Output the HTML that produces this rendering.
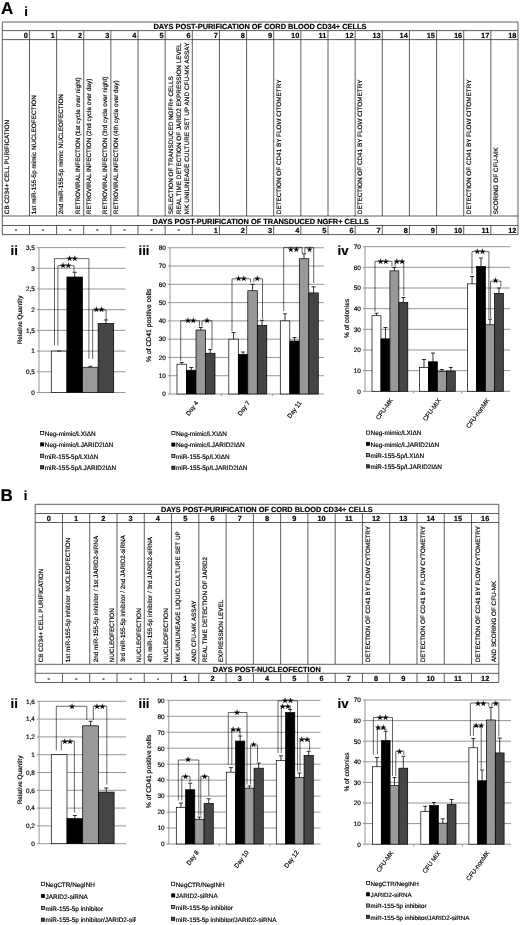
<!DOCTYPE html>
<html lang="en"><head><meta charset="utf-8"><title>Figure</title>
<style>html,body{margin:0;padding:0;background:#fff}svg{display:block}text{text-rendering:geometricPrecision;stroke:#000;stroke-width:0.18px;font-family:"Liberation Sans", Arial, sans-serif}</style></head>
<body>
<svg width="520" height="925" viewBox="0 0 520 925">
<defs><filter id="soft" x="0" y="0" width="520" height="925" filterUnits="userSpaceOnUse"><feGaussianBlur stdDeviation="0.35"/></filter></defs>
<rect width="520" height="925" fill="#fff"/>
<g filter="url(#soft)">
<text x="1" y="13.9" font-size="17" text-anchor="start" font-weight="bold" fill="#000" >A</text>
<text x="24.3" y="15.9" font-size="13.2" text-anchor="start" font-weight="bold" fill="#000" >i</text>
<line x1="2.3" y1="22" x2="518" y2="22" stroke="#2a2a2a" stroke-width="0.75" />
<line x1="2.3" y1="30.6" x2="518" y2="30.6" stroke="#2a2a2a" stroke-width="0.75" />
<line x1="2.3" y1="39.6" x2="518" y2="39.6" stroke="#2a2a2a" stroke-width="0.75" />
<line x1="2.3" y1="216" x2="518" y2="216" stroke="#2a2a2a" stroke-width="0.75" />
<line x1="2.3" y1="225.5" x2="518" y2="225.5" stroke="#2a2a2a" stroke-width="0.75" />
<line x1="2.3" y1="234.6" x2="518" y2="234.6" stroke="#2a2a2a" stroke-width="0.75" />
<line x1="2.3" y1="22" x2="2.3" y2="234.6" stroke="#2a2a2a" stroke-width="0.75" />
<line x1="518" y1="22" x2="518" y2="234.6" stroke="#2a2a2a" stroke-width="0.75" />
<line x1="29.44" y1="30.6" x2="29.44" y2="216" stroke="#2a2a2a" stroke-width="0.75" />
<line x1="29.44" y1="225.5" x2="29.44" y2="234.6" stroke="#2a2a2a" stroke-width="0.75" />
<line x1="56.58" y1="30.6" x2="56.58" y2="216" stroke="#2a2a2a" stroke-width="0.75" />
<line x1="56.58" y1="225.5" x2="56.58" y2="234.6" stroke="#2a2a2a" stroke-width="0.75" />
<line x1="83.73" y1="30.6" x2="83.73" y2="216" stroke="#2a2a2a" stroke-width="0.75" />
<line x1="83.73" y1="225.5" x2="83.73" y2="234.6" stroke="#2a2a2a" stroke-width="0.75" />
<line x1="110.87" y1="30.6" x2="110.87" y2="216" stroke="#2a2a2a" stroke-width="0.75" />
<line x1="110.87" y1="225.5" x2="110.87" y2="234.6" stroke="#2a2a2a" stroke-width="0.75" />
<line x1="138.01" y1="30.6" x2="138.01" y2="216" stroke="#2a2a2a" stroke-width="0.75" />
<line x1="138.01" y1="225.5" x2="138.01" y2="234.6" stroke="#2a2a2a" stroke-width="0.75" />
<line x1="165.15" y1="30.6" x2="165.15" y2="216" stroke="#2a2a2a" stroke-width="0.75" />
<line x1="165.15" y1="225.5" x2="165.15" y2="234.6" stroke="#2a2a2a" stroke-width="0.75" />
<line x1="192.29" y1="30.6" x2="192.29" y2="216" stroke="#2a2a2a" stroke-width="0.75" />
<line x1="192.29" y1="225.5" x2="192.29" y2="234.6" stroke="#2a2a2a" stroke-width="0.75" />
<line x1="219.44" y1="30.6" x2="219.44" y2="216" stroke="#2a2a2a" stroke-width="0.75" />
<line x1="219.44" y1="225.5" x2="219.44" y2="234.6" stroke="#2a2a2a" stroke-width="0.75" />
<line x1="246.58" y1="30.6" x2="246.58" y2="216" stroke="#2a2a2a" stroke-width="0.75" />
<line x1="246.58" y1="225.5" x2="246.58" y2="234.6" stroke="#2a2a2a" stroke-width="0.75" />
<line x1="273.72" y1="30.6" x2="273.72" y2="216" stroke="#2a2a2a" stroke-width="0.75" />
<line x1="273.72" y1="225.5" x2="273.72" y2="234.6" stroke="#2a2a2a" stroke-width="0.75" />
<line x1="300.86" y1="30.6" x2="300.86" y2="216" stroke="#2a2a2a" stroke-width="0.75" />
<line x1="300.86" y1="225.5" x2="300.86" y2="234.6" stroke="#2a2a2a" stroke-width="0.75" />
<line x1="328.01" y1="30.6" x2="328.01" y2="216" stroke="#2a2a2a" stroke-width="0.75" />
<line x1="328.01" y1="225.5" x2="328.01" y2="234.6" stroke="#2a2a2a" stroke-width="0.75" />
<line x1="355.15" y1="30.6" x2="355.15" y2="216" stroke="#2a2a2a" stroke-width="0.75" />
<line x1="355.15" y1="225.5" x2="355.15" y2="234.6" stroke="#2a2a2a" stroke-width="0.75" />
<line x1="382.29" y1="30.6" x2="382.29" y2="216" stroke="#2a2a2a" stroke-width="0.75" />
<line x1="382.29" y1="225.5" x2="382.29" y2="234.6" stroke="#2a2a2a" stroke-width="0.75" />
<line x1="409.43" y1="30.6" x2="409.43" y2="216" stroke="#2a2a2a" stroke-width="0.75" />
<line x1="409.43" y1="225.5" x2="409.43" y2="234.6" stroke="#2a2a2a" stroke-width="0.75" />
<line x1="436.57" y1="30.6" x2="436.57" y2="216" stroke="#2a2a2a" stroke-width="0.75" />
<line x1="436.57" y1="225.5" x2="436.57" y2="234.6" stroke="#2a2a2a" stroke-width="0.75" />
<line x1="463.72" y1="30.6" x2="463.72" y2="216" stroke="#2a2a2a" stroke-width="0.75" />
<line x1="463.72" y1="225.5" x2="463.72" y2="234.6" stroke="#2a2a2a" stroke-width="0.75" />
<line x1="490.86" y1="30.6" x2="490.86" y2="216" stroke="#2a2a2a" stroke-width="0.75" />
<line x1="490.86" y1="225.5" x2="490.86" y2="234.6" stroke="#2a2a2a" stroke-width="0.75" />
<text x="260" y="28.9" font-size="7.42" text-anchor="middle" font-weight="bold" fill="#000" >DAYS POST-PURIFICATION OF CORD BLOOD CD34+ CELLS</text>
<text x="260.7" y="223.6" font-size="7.42" text-anchor="middle" font-weight="bold" fill="#000" >DAYS POST-PURIFICATION OF TRANSDUCED NGFR+ CELLS</text>
<text x="27.84" y="38" font-size="7.4" text-anchor="end" font-weight="bold" fill="#000" >0</text>
<text x="15.87" y="232.4" font-size="7.4" text-anchor="middle" font-weight="bold" fill="#000" >-</text>
<text x="54.98" y="38" font-size="7.4" text-anchor="end" font-weight="bold" fill="#000" >1</text>
<text x="43.01" y="232.4" font-size="7.4" text-anchor="middle" font-weight="bold" fill="#000" >-</text>
<text x="82.13" y="38" font-size="7.4" text-anchor="end" font-weight="bold" fill="#000" >2</text>
<text x="70.16" y="232.4" font-size="7.4" text-anchor="middle" font-weight="bold" fill="#000" >-</text>
<text x="109.27" y="38" font-size="7.4" text-anchor="end" font-weight="bold" fill="#000" >3</text>
<text x="97.3" y="232.4" font-size="7.4" text-anchor="middle" font-weight="bold" fill="#000" >-</text>
<text x="136.41" y="38" font-size="7.4" text-anchor="end" font-weight="bold" fill="#000" >4</text>
<text x="124.44" y="232.4" font-size="7.4" text-anchor="middle" font-weight="bold" fill="#000" >-</text>
<text x="163.55" y="38" font-size="7.4" text-anchor="end" font-weight="bold" fill="#000" >5</text>
<text x="151.58" y="232.4" font-size="7.4" text-anchor="middle" font-weight="bold" fill="#000" >-</text>
<text x="190.69" y="38" font-size="7.4" text-anchor="end" font-weight="bold" fill="#000" >6</text>
<text x="178.72" y="232.4" font-size="7.4" text-anchor="middle" font-weight="bold" fill="#000" >-</text>
<text x="217.84" y="38" font-size="7.4" text-anchor="end" font-weight="bold" fill="#000" >7</text>
<text x="217.84" y="233" font-size="7.4" text-anchor="end" font-weight="bold" fill="#000" >1</text>
<text x="244.98" y="38" font-size="7.4" text-anchor="end" font-weight="bold" fill="#000" >8</text>
<text x="244.98" y="233" font-size="7.4" text-anchor="end" font-weight="bold" fill="#000" >2</text>
<text x="272.12" y="38" font-size="7.4" text-anchor="end" font-weight="bold" fill="#000" >9</text>
<text x="272.12" y="233" font-size="7.4" text-anchor="end" font-weight="bold" fill="#000" >3</text>
<text x="299.26" y="38" font-size="7.4" text-anchor="end" font-weight="bold" fill="#000" >10</text>
<text x="299.26" y="233" font-size="7.4" text-anchor="end" font-weight="bold" fill="#000" >4</text>
<text x="326.41" y="38" font-size="7.4" text-anchor="end" font-weight="bold" fill="#000" >11</text>
<text x="326.41" y="233" font-size="7.4" text-anchor="end" font-weight="bold" fill="#000" >5</text>
<text x="353.55" y="38" font-size="7.4" text-anchor="end" font-weight="bold" fill="#000" >12</text>
<text x="353.55" y="233" font-size="7.4" text-anchor="end" font-weight="bold" fill="#000" >6</text>
<text x="380.69" y="38" font-size="7.4" text-anchor="end" font-weight="bold" fill="#000" >13</text>
<text x="380.69" y="233" font-size="7.4" text-anchor="end" font-weight="bold" fill="#000" >7</text>
<text x="407.83" y="38" font-size="7.4" text-anchor="end" font-weight="bold" fill="#000" >14</text>
<text x="407.83" y="233" font-size="7.4" text-anchor="end" font-weight="bold" fill="#000" >8</text>
<text x="434.97" y="38" font-size="7.4" text-anchor="end" font-weight="bold" fill="#000" >15</text>
<text x="434.97" y="233" font-size="7.4" text-anchor="end" font-weight="bold" fill="#000" >9</text>
<text x="462.12" y="38" font-size="7.4" text-anchor="end" font-weight="bold" fill="#000" >16</text>
<text x="462.12" y="233" font-size="7.4" text-anchor="end" font-weight="bold" fill="#000" >10</text>
<text x="489.26" y="38" font-size="7.4" text-anchor="end" font-weight="bold" fill="#000" >17</text>
<text x="489.26" y="233" font-size="7.4" text-anchor="end" font-weight="bold" fill="#000" >11</text>
<text x="516.4" y="38" font-size="7.4" text-anchor="end" font-weight="bold" fill="#000" >18</text>
<text x="516.4" y="233" font-size="7.4" text-anchor="end" font-weight="bold" fill="#000" >12</text>
<text transform="translate(8.7,214.2) rotate(-90)" font-size="6.36" text-anchor="start" fill="#000" >CB CD34+ CELL PURIFICATION</text>
<text transform="translate(36.24,214.2) rotate(-90)" font-size="6.36" text-anchor="start" fill="#000" textLength="119.0" lengthAdjust="spacing">1st miR-155-5p mimic NUCLEOFECTION</text>
<text transform="translate(63.38,214.2) rotate(-90)" font-size="6.36" text-anchor="start" fill="#000" >2nd miR-155-5p mimic NUCLEOFECTION</text>
<text transform="translate(79.78,214.2) rotate(-90)" font-size="6.36" text-anchor="start" fill="#000" >RETROVIRAL INFECTION (1st cycle over night)</text>
<text transform="translate(90.53,214.2) rotate(-90)" font-size="6.36" text-anchor="start" fill="#000" >RETROVIRAL INFECTION (2nd cycle over day)</text>
<text transform="translate(106.93,214.2) rotate(-90)" font-size="6.36" text-anchor="start" fill="#000" >RETROVIRAL INFECTION (3rd cycle over night)</text>
<text transform="translate(117.67,214.2) rotate(-90)" font-size="6.36" text-anchor="start" fill="#000" >RETROVIRAL INFECTION (4th cycle over day)</text>
<text transform="translate(172.55,214.2) rotate(-90)" font-size="6.36" text-anchor="start" fill="#000" >SELECTION OF TRANSDUCED NGFR+ CELLS</text>
<text transform="translate(180.75,214.2) rotate(-90)" font-size="6.36" text-anchor="start" fill="#000" >REAL TIME DETECTION OF JARID2 EXPRESSION LEVEL</text>
<text transform="translate(188.95,214.2) rotate(-90)" font-size="6.36" text-anchor="start" fill="#000" textLength="171.6" lengthAdjust="spacing">MK UNILINEAGE CULTURE SET UP AND CFU-MK ASSAY</text>
<text transform="translate(280.52,214.2) rotate(-90)" font-size="6.36" text-anchor="start" fill="#000" >DETECTION OF CD41 BY FLOW CITOMETRY</text>
<text transform="translate(361.95,214.2) rotate(-90)" font-size="6.36" text-anchor="start" fill="#000" >DETECTION OF CD41 BY FLOW CITOMETRY</text>
<text transform="translate(470.52,214.2) rotate(-90)" font-size="6.36" text-anchor="start" fill="#000" >DETECTION OF CD41 BY FLOW CITOMETRY</text>
<text transform="translate(497.66,214.2) rotate(-90)" font-size="6.36" text-anchor="start" fill="#000" >SCORING OF CFU-MK</text>
<text x="10.5" y="254.5" font-size="13.2" text-anchor="start" font-weight="bold" fill="#000" >ii</text>
<line x1="36.8" y1="392.5" x2="125.5" y2="392.5" stroke="#8a8a8a" stroke-width="0.9" />
<line x1="36.8" y1="371.8" x2="125.5" y2="371.8" stroke="#8a8a8a" stroke-width="0.9" />
<line x1="36.8" y1="351.1" x2="125.5" y2="351.1" stroke="#8a8a8a" stroke-width="0.9" />
<line x1="36.8" y1="330.4" x2="125.5" y2="330.4" stroke="#8a8a8a" stroke-width="0.9" />
<line x1="36.8" y1="309.7" x2="125.5" y2="309.7" stroke="#8a8a8a" stroke-width="0.9" />
<line x1="36.8" y1="289" x2="125.5" y2="289" stroke="#8a8a8a" stroke-width="0.9" />
<line x1="36.8" y1="268.3" x2="125.5" y2="268.3" stroke="#8a8a8a" stroke-width="0.9" />
<line x1="36.8" y1="247.6" x2="125.5" y2="247.6" stroke="#8a8a8a" stroke-width="0.9" />
<line x1="39" y1="247.6" x2="39" y2="392.5" stroke="#8a8a8a" stroke-width="0.9" />
<text x="34.8" y="394.8" font-size="6.4" text-anchor="end" fill="#000" >0</text>
<text x="34.8" y="374.1" font-size="6.4" text-anchor="end" fill="#000" >0,5</text>
<text x="34.8" y="353.4" font-size="6.4" text-anchor="end" fill="#000" >1</text>
<text x="34.8" y="332.7" font-size="6.4" text-anchor="end" fill="#000" >1,5</text>
<text x="34.8" y="312" font-size="6.4" text-anchor="end" fill="#000" >2</text>
<text x="34.8" y="291.3" font-size="6.4" text-anchor="end" fill="#000" >2,5</text>
<text x="34.8" y="270.6" font-size="6.4" text-anchor="end" fill="#000" >3</text>
<text x="34.8" y="249.9" font-size="6.4" text-anchor="end" fill="#000" >3,5</text>
<text transform="translate(22.3,320) rotate(-90)" font-size="6.4" text-anchor="middle" fill="#000" >Relative Quantity</text>
<rect x="51.3" y="351.1" width="15.6" height="41.4" fill="#ffffff" stroke="#000" stroke-width="0.7"/>
<line x1="59.1" y1="351.1" x2="59.1" y2="351" stroke="#111" stroke-width="0.85" />
<line x1="57.1" y1="351" x2="61.1" y2="351" stroke="#111" stroke-width="0.85" />
<rect x="66.9" y="276.99" width="15.6" height="115.51" fill="#000000" stroke="#000" stroke-width="0.7"/>
<line x1="74.7" y1="276.99" x2="74.7" y2="272.3" stroke="#111" stroke-width="0.85" />
<line x1="72.7" y1="272.3" x2="76.7" y2="272.3" stroke="#111" stroke-width="0.85" />
<rect x="82.5" y="367.25" width="15.6" height="25.25" fill="#999999" stroke="#000" stroke-width="0.7"/>
<line x1="90.3" y1="367.25" x2="90.3" y2="366.3" stroke="#111" stroke-width="0.85" />
<line x1="88.3" y1="366.3" x2="92.3" y2="366.3" stroke="#111" stroke-width="0.85" />
<rect x="98.1" y="323.36" width="15.6" height="69.14" fill="#444444" stroke="#000" stroke-width="0.7"/>
<line x1="105.9" y1="323.36" x2="105.9" y2="320" stroke="#111" stroke-width="0.85" />
<line x1="103.9" y1="320" x2="107.9" y2="320" stroke="#111" stroke-width="0.85" />
<path d="M54.5 345.5V258.6H88.9V358.8" fill="none" stroke="#000" stroke-width="0.6"/>
<text x="71.5" y="260.85" font-size="7.4" text-anchor="middle" fill="#000" font-family='DejaVu Sans' letter-spacing="-1.3" stroke="#000" stroke-width="0.25">★★</text>
<path d="M57.9 345.5V265.7H74V272.3" fill="none" stroke="#000" stroke-width="0.6"/>
<text x="65" y="267.95" font-size="7.4" text-anchor="middle" fill="#000" font-family='DejaVu Sans' letter-spacing="-1.3" stroke="#000" stroke-width="0.25">★★</text>
<path d="M92.6 358.8V310H106.1V320" fill="none" stroke="#000" stroke-width="0.6"/>
<text x="98.3" y="312.25" font-size="7.4" text-anchor="middle" fill="#000" font-family='DejaVu Sans' letter-spacing="-1.3" stroke="#000" stroke-width="0.25">★★</text>
<rect x="40.6" y="431.4" width="3.2" height="3.2" fill="#ffffff" stroke="#000" stroke-width="0.7"/>
<text x="44.8" y="435.7" font-size="6.4" text-anchor="start" fill="#000" >Neg-mimic/LXIΔN</text>
<rect x="40.6" y="442.8" width="3.2" height="3.2" fill="#000000" stroke="#000" stroke-width="0.7"/>
<text x="44.8" y="447.1" font-size="6.4" text-anchor="start" fill="#000" >Neg-mimic/LJARID2IΔN</text>
<rect x="40.6" y="454.2" width="3.2" height="3.2" fill="#999999" stroke="#000" stroke-width="0.7"/>
<text x="44.8" y="458.5" font-size="6.4" text-anchor="start" fill="#000" >miR-155-5p/LXIΔN</text>
<rect x="40.6" y="465.7" width="3.2" height="3.2" fill="#444444" stroke="#000" stroke-width="0.7"/>
<text x="44.8" y="470" font-size="6.4" text-anchor="start" fill="#000" >miR-155-5p/LJARID2IΔN</text>
<text x="138.5" y="254.5" font-size="13.2" text-anchor="start" font-weight="bold" fill="#000" >iii</text>
<line x1="167.8" y1="394" x2="324" y2="394" stroke="#8a8a8a" stroke-width="0.9" />
<line x1="167.8" y1="375.72" x2="324" y2="375.72" stroke="#8a8a8a" stroke-width="0.9" />
<line x1="167.8" y1="357.44" x2="324" y2="357.44" stroke="#8a8a8a" stroke-width="0.9" />
<line x1="167.8" y1="339.16" x2="324" y2="339.16" stroke="#8a8a8a" stroke-width="0.9" />
<line x1="167.8" y1="320.88" x2="324" y2="320.88" stroke="#8a8a8a" stroke-width="0.9" />
<line x1="167.8" y1="302.6" x2="324" y2="302.6" stroke="#8a8a8a" stroke-width="0.9" />
<line x1="167.8" y1="284.32" x2="324" y2="284.32" stroke="#8a8a8a" stroke-width="0.9" />
<line x1="167.8" y1="266.04" x2="324" y2="266.04" stroke="#8a8a8a" stroke-width="0.9" />
<line x1="167.8" y1="247.76" x2="324" y2="247.76" stroke="#8a8a8a" stroke-width="0.9" />
<line x1="170" y1="247.76" x2="170" y2="394" stroke="#8a8a8a" stroke-width="0.9" />
<text x="165.8" y="396.3" font-size="6.4" text-anchor="end" fill="#000" >0</text>
<text x="165.8" y="378.02" font-size="6.4" text-anchor="end" fill="#000" >10</text>
<text x="165.8" y="359.74" font-size="6.4" text-anchor="end" fill="#000" >20</text>
<text x="165.8" y="341.46" font-size="6.4" text-anchor="end" fill="#000" >30</text>
<text x="165.8" y="323.18" font-size="6.4" text-anchor="end" fill="#000" >40</text>
<text x="165.8" y="304.9" font-size="6.4" text-anchor="end" fill="#000" >50</text>
<text x="165.8" y="286.62" font-size="6.4" text-anchor="end" fill="#000" >60</text>
<text x="165.8" y="268.34" font-size="6.4" text-anchor="end" fill="#000" >70</text>
<text x="165.8" y="250.06" font-size="6.4" text-anchor="end" fill="#000" >80</text>
<text transform="translate(150.7,325.4) rotate(-90)" font-size="6.8" text-anchor="middle" fill="#000" >% of CD41 positive cells</text>
<rect x="177" y="364.2" width="9.5" height="29.8" fill="#ffffff" stroke="#000" stroke-width="0.7"/>
<line x1="181.75" y1="364.2" x2="181.75" y2="362.5" stroke="#111" stroke-width="0.85" />
<line x1="179.75" y1="362.5" x2="183.75" y2="362.5" stroke="#111" stroke-width="0.85" />
<rect x="186.5" y="370.24" width="9.5" height="23.76" fill="#000000" stroke="#000" stroke-width="0.7"/>
<line x1="191.25" y1="370.24" x2="191.25" y2="367.5" stroke="#111" stroke-width="0.85" />
<line x1="189.25" y1="367.5" x2="193.25" y2="367.5" stroke="#111" stroke-width="0.85" />
<rect x="196" y="330.02" width="9.5" height="63.98" fill="#999999" stroke="#000" stroke-width="0.7"/>
<line x1="200.75" y1="330.02" x2="200.75" y2="327.5" stroke="#111" stroke-width="0.85" />
<line x1="198.75" y1="327.5" x2="202.75" y2="327.5" stroke="#111" stroke-width="0.85" />
<rect x="205.5" y="353.24" width="9.5" height="40.76" fill="#444444" stroke="#000" stroke-width="0.7"/>
<line x1="210.25" y1="353.24" x2="210.25" y2="349.5" stroke="#111" stroke-width="0.85" />
<line x1="208.25" y1="349.5" x2="212.25" y2="349.5" stroke="#111" stroke-width="0.85" />
<rect x="228.8" y="339.16" width="9.5" height="54.84" fill="#ffffff" stroke="#000" stroke-width="0.7"/>
<line x1="233.55" y1="339.16" x2="233.55" y2="332.5" stroke="#111" stroke-width="0.85" />
<line x1="231.55" y1="332.5" x2="235.55" y2="332.5" stroke="#111" stroke-width="0.85" />
<rect x="238.3" y="354.33" width="9.5" height="39.67" fill="#000000" stroke="#000" stroke-width="0.7"/>
<line x1="243.05" y1="354.33" x2="243.05" y2="352" stroke="#111" stroke-width="0.85" />
<line x1="241.05" y1="352" x2="245.05" y2="352" stroke="#111" stroke-width="0.85" />
<rect x="247.8" y="290.72" width="9.5" height="103.28" fill="#999999" stroke="#000" stroke-width="0.7"/>
<line x1="252.55" y1="290.72" x2="252.55" y2="284.3" stroke="#111" stroke-width="0.85" />
<line x1="250.55" y1="284.3" x2="254.55" y2="284.3" stroke="#111" stroke-width="0.85" />
<rect x="257.3" y="325.45" width="9.5" height="68.55" fill="#444444" stroke="#000" stroke-width="0.7"/>
<line x1="262.05" y1="325.45" x2="262.05" y2="320.3" stroke="#111" stroke-width="0.85" />
<line x1="260.05" y1="320.3" x2="264.05" y2="320.3" stroke="#111" stroke-width="0.85" />
<rect x="280.3" y="320.88" width="9.5" height="73.12" fill="#ffffff" stroke="#000" stroke-width="0.7"/>
<line x1="285.05" y1="320.88" x2="285.05" y2="313.8" stroke="#111" stroke-width="0.85" />
<line x1="283.05" y1="313.8" x2="287.05" y2="313.8" stroke="#111" stroke-width="0.85" />
<rect x="289.8" y="340.99" width="9.5" height="53.01" fill="#000000" stroke="#000" stroke-width="0.7"/>
<line x1="294.55" y1="340.99" x2="294.55" y2="337.5" stroke="#111" stroke-width="0.85" />
<line x1="292.55" y1="337.5" x2="296.55" y2="337.5" stroke="#111" stroke-width="0.85" />
<rect x="299.3" y="258.73" width="9.5" height="135.27" fill="#999999" stroke="#000" stroke-width="0.7"/>
<line x1="304.05" y1="258.73" x2="304.05" y2="253.8" stroke="#111" stroke-width="0.85" />
<line x1="302.05" y1="253.8" x2="306.05" y2="253.8" stroke="#111" stroke-width="0.85" />
<rect x="308.8" y="292.91" width="9.5" height="101.09" fill="#444444" stroke="#000" stroke-width="0.7"/>
<line x1="313.55" y1="292.91" x2="313.55" y2="286.8" stroke="#111" stroke-width="0.85" />
<line x1="311.55" y1="286.8" x2="315.55" y2="286.8" stroke="#111" stroke-width="0.85" />
<line x1="221.4" y1="394" x2="221.4" y2="396.2" stroke="#8a8a8a" stroke-width="0.9" />
<line x1="272.8" y1="394" x2="272.8" y2="396.2" stroke="#8a8a8a" stroke-width="0.9" />
<text transform="translate(198.6,402.9) rotate(-54)" font-size="6.3" text-anchor="end" fill="#000" >Day 4</text>
<text transform="translate(250.3,402.9) rotate(-54)" font-size="6.3" text-anchor="end" fill="#000" >Day 7</text>
<text transform="translate(301.8,402.9) rotate(-54)" font-size="6.3" text-anchor="end" fill="#000" >Day 11</text>
<path d="M180.7 361V320.8H199.5V326.5" fill="none" stroke="#000" stroke-width="0.6"/>
<text x="190" y="323.05" font-size="7.4" text-anchor="middle" fill="#000" font-family='DejaVu Sans' letter-spacing="-1.3" stroke="#000" stroke-width="0.25">★★</text>
<path d="M202 326.5V320.8H212V348.5" fill="none" stroke="#000" stroke-width="0.6"/>
<text x="206.3" y="323.05" font-size="7.4" text-anchor="middle" fill="#000" font-family='DejaVu Sans' letter-spacing="-1.3" stroke="#000" stroke-width="0.25">★</text>
<path d="M232 331.2V278.8H250.5V282.5" fill="none" stroke="#000" stroke-width="0.6"/>
<text x="240.6" y="281.05" font-size="7.4" text-anchor="middle" fill="#000" font-family='DejaVu Sans' letter-spacing="-1.3" stroke="#000" stroke-width="0.25">★★</text>
<path d="M253.8 282.5V278.8H262.5V319" fill="none" stroke="#000" stroke-width="0.6"/>
<text x="256.6" y="281.05" font-size="7.4" text-anchor="middle" fill="#000" font-family='DejaVu Sans' letter-spacing="-1.3" stroke="#000" stroke-width="0.25">★</text>
<path d="M283.7 311V247.4H302.1V253.4" fill="none" stroke="#000" stroke-width="0.6"/>
<text x="292.9" y="252.3" font-size="7.4" text-anchor="middle" fill="#000" font-family='DejaVu Sans' letter-spacing="-1.3" stroke="#000" stroke-width="0.25">★★</text>
<path d="M304.9 253.4V247.4H313.7V283" fill="none" stroke="#000" stroke-width="0.6"/>
<text x="308.9" y="252.3" font-size="7.4" text-anchor="middle" fill="#000" font-family='DejaVu Sans' letter-spacing="-1.3" stroke="#000" stroke-width="0.25">★</text>
<rect x="171.8" y="431.4" width="3.2" height="3.2" fill="#ffffff" stroke="#000" stroke-width="0.7"/>
<text x="176" y="435.7" font-size="6.4" text-anchor="start" fill="#000" >Neg-mimic/LXIΔN</text>
<rect x="171.8" y="443" width="3.2" height="3.2" fill="#000000" stroke="#000" stroke-width="0.7"/>
<text x="176" y="447.3" font-size="6.4" text-anchor="start" fill="#000" >Neg-mimic/LJARID2IΔN</text>
<rect x="171.8" y="454.4" width="3.2" height="3.2" fill="#999999" stroke="#000" stroke-width="0.7"/>
<text x="176" y="458.7" font-size="6.4" text-anchor="start" fill="#000" >miR-155-5p/LXIΔN</text>
<rect x="171.8" y="466.1" width="3.2" height="3.2" fill="#444444" stroke="#000" stroke-width="0.7"/>
<text x="176" y="470.4" font-size="6.4" text-anchor="start" fill="#000" >miR-155-5p/LJARID2IΔN</text>
<text x="337.5" y="254.5" font-size="13.2" text-anchor="start" font-weight="bold" fill="#000" >iv</text>
<line x1="362.8" y1="391.3" x2="510" y2="391.3" stroke="#8a8a8a" stroke-width="0.9" />
<line x1="362.8" y1="370.64" x2="510" y2="370.64" stroke="#8a8a8a" stroke-width="0.9" />
<line x1="362.8" y1="349.98" x2="510" y2="349.98" stroke="#8a8a8a" stroke-width="0.9" />
<line x1="362.8" y1="329.32" x2="510" y2="329.32" stroke="#8a8a8a" stroke-width="0.9" />
<line x1="362.8" y1="308.66" x2="510" y2="308.66" stroke="#8a8a8a" stroke-width="0.9" />
<line x1="362.8" y1="288" x2="510" y2="288" stroke="#8a8a8a" stroke-width="0.9" />
<line x1="362.8" y1="267.34" x2="510" y2="267.34" stroke="#8a8a8a" stroke-width="0.9" />
<line x1="362.8" y1="246.68" x2="510" y2="246.68" stroke="#8a8a8a" stroke-width="0.9" />
<line x1="365" y1="246.68" x2="365" y2="391.3" stroke="#8a8a8a" stroke-width="0.9" />
<text x="360.8" y="393.6" font-size="6.4" text-anchor="end" fill="#000" >0</text>
<text x="360.8" y="372.94" font-size="6.4" text-anchor="end" fill="#000" >10</text>
<text x="360.8" y="352.28" font-size="6.4" text-anchor="end" fill="#000" >20</text>
<text x="360.8" y="331.62" font-size="6.4" text-anchor="end" fill="#000" >30</text>
<text x="360.8" y="310.96" font-size="6.4" text-anchor="end" fill="#000" >40</text>
<text x="360.8" y="290.3" font-size="6.4" text-anchor="end" fill="#000" >50</text>
<text x="360.8" y="269.64" font-size="6.4" text-anchor="end" fill="#000" >60</text>
<text x="360.8" y="248.98" font-size="6.4" text-anchor="end" fill="#000" >70</text>
<text transform="translate(348.6,318.4) rotate(-90)" font-size="6.6" text-anchor="middle" fill="#000" >% of colonies</text>
<rect x="372" y="315.68" width="8.95" height="75.62" fill="#ffffff" stroke="#000" stroke-width="0.7"/>
<line x1="376.48" y1="315.68" x2="376.48" y2="313.3" stroke="#111" stroke-width="0.85" />
<line x1="374.48" y1="313.3" x2="378.48" y2="313.3" stroke="#111" stroke-width="0.85" />
<rect x="380.95" y="338.82" width="8.95" height="52.48" fill="#000000" stroke="#000" stroke-width="0.7"/>
<line x1="385.43" y1="338.82" x2="385.43" y2="327.5" stroke="#111" stroke-width="0.85" />
<line x1="383.43" y1="327.5" x2="387.43" y2="327.5" stroke="#111" stroke-width="0.85" />
<rect x="389.9" y="270.85" width="8.95" height="120.45" fill="#999999" stroke="#000" stroke-width="0.7"/>
<line x1="394.38" y1="270.85" x2="394.38" y2="267.5" stroke="#111" stroke-width="0.85" />
<line x1="392.38" y1="267.5" x2="396.38" y2="267.5" stroke="#111" stroke-width="0.85" />
<rect x="398.85" y="302.46" width="8.95" height="88.84" fill="#444444" stroke="#000" stroke-width="0.7"/>
<line x1="403.33" y1="302.46" x2="403.33" y2="297.5" stroke="#111" stroke-width="0.85" />
<line x1="401.33" y1="297.5" x2="405.33" y2="297.5" stroke="#111" stroke-width="0.85" />
<rect x="419.5" y="367.54" width="8.95" height="23.76" fill="#ffffff" stroke="#000" stroke-width="0.7"/>
<line x1="423.98" y1="367.54" x2="423.98" y2="359.5" stroke="#111" stroke-width="0.85" />
<line x1="421.98" y1="359.5" x2="425.98" y2="359.5" stroke="#111" stroke-width="0.85" />
<rect x="428.45" y="361.76" width="8.95" height="29.54" fill="#000000" stroke="#000" stroke-width="0.7"/>
<line x1="432.93" y1="361.76" x2="432.93" y2="353" stroke="#111" stroke-width="0.85" />
<line x1="430.93" y1="353" x2="434.93" y2="353" stroke="#111" stroke-width="0.85" />
<rect x="437.4" y="371.67" width="8.95" height="19.63" fill="#999999" stroke="#000" stroke-width="0.7"/>
<line x1="441.88" y1="371.67" x2="441.88" y2="369.5" stroke="#111" stroke-width="0.85" />
<line x1="439.88" y1="369.5" x2="443.88" y2="369.5" stroke="#111" stroke-width="0.85" />
<rect x="446.35" y="371.05" width="8.95" height="20.25" fill="#444444" stroke="#000" stroke-width="0.7"/>
<line x1="450.83" y1="371.05" x2="450.83" y2="367.5" stroke="#111" stroke-width="0.85" />
<line x1="448.83" y1="367.5" x2="452.83" y2="367.5" stroke="#111" stroke-width="0.85" />
<rect x="467.6" y="283.87" width="8.95" height="107.43" fill="#ffffff" stroke="#000" stroke-width="0.7"/>
<line x1="472.08" y1="283.87" x2="472.08" y2="276.5" stroke="#111" stroke-width="0.85" />
<line x1="470.08" y1="276.5" x2="474.08" y2="276.5" stroke="#111" stroke-width="0.85" />
<rect x="476.55" y="266.51" width="8.95" height="124.79" fill="#000000" stroke="#000" stroke-width="0.7"/>
<line x1="481.03" y1="266.51" x2="481.03" y2="258" stroke="#111" stroke-width="0.85" />
<line x1="479.03" y1="258" x2="483.03" y2="258" stroke="#111" stroke-width="0.85" />
<rect x="485.5" y="324.77" width="8.95" height="66.53" fill="#999999" stroke="#000" stroke-width="0.7"/>
<line x1="489.98" y1="324.77" x2="489.98" y2="319.2" stroke="#111" stroke-width="0.85" />
<line x1="487.98" y1="319.2" x2="491.98" y2="319.2" stroke="#111" stroke-width="0.85" />
<rect x="494.45" y="293.37" width="8.95" height="97.93" fill="#444444" stroke="#000" stroke-width="0.7"/>
<line x1="498.93" y1="293.37" x2="498.93" y2="288" stroke="#111" stroke-width="0.85" />
<line x1="496.93" y1="288" x2="500.93" y2="288" stroke="#111" stroke-width="0.85" />
<line x1="413.3" y1="391.3" x2="413.3" y2="393.5" stroke="#8a8a8a" stroke-width="0.9" />
<line x1="461.7" y1="391.3" x2="461.7" y2="393.5" stroke="#8a8a8a" stroke-width="0.9" />
<text transform="translate(393.3,400.4) rotate(-54)" font-size="6.3" text-anchor="end" fill="#000" >CFU-MK</text>
<text transform="translate(441.3,400.4) rotate(-54)" font-size="6.3" text-anchor="end" fill="#000" >CFU-MIX</text>
<text transform="translate(489.8,400.4) rotate(-54)" font-size="6.3" text-anchor="end" fill="#000" >CFU-nonMK</text>
<path d="M375 311.5V261.3H392V266.5" fill="none" stroke="#000" stroke-width="0.6"/>
<text x="382.5" y="263.55" font-size="7.4" text-anchor="middle" fill="#000" font-family='DejaVu Sans' letter-spacing="-1.3" stroke="#000" stroke-width="0.25">★★</text>
<path d="M395 266.5V261.3H403.8V296" fill="none" stroke="#000" stroke-width="0.6"/>
<text x="398.8" y="263.55" font-size="7.4" text-anchor="middle" fill="#000" font-family='DejaVu Sans' letter-spacing="-1.3" stroke="#000" stroke-width="0.25">★★</text>
<path d="M472 273.5V251.6H488.9V318" fill="none" stroke="#000" stroke-width="0.6"/>
<text x="479.3" y="253.85" font-size="7.4" text-anchor="middle" fill="#000" font-family='DejaVu Sans' letter-spacing="-1.3" stroke="#000" stroke-width="0.25">★★</text>
<path d="M490.6 318V281.2H500.9V287" fill="none" stroke="#000" stroke-width="0.6"/>
<text x="494.8" y="282.75" font-size="7.4" text-anchor="middle" fill="#000" font-family='DejaVu Sans' letter-spacing="-1.3" stroke="#000" stroke-width="0.25">★</text>
<rect x="366.4" y="431" width="3.2" height="3.2" fill="#ffffff" stroke="#000" stroke-width="0.7"/>
<text x="370.6" y="435.3" font-size="6.4" text-anchor="start" fill="#000" >Neg-mimic/LXIΔN</text>
<rect x="366.4" y="442.3" width="3.2" height="3.2" fill="#000000" stroke="#000" stroke-width="0.7"/>
<text x="370.6" y="446.6" font-size="6.4" text-anchor="start" fill="#000" >Neg-mimic/LJARID2IΔN</text>
<rect x="366.4" y="453.5" width="3.2" height="3.2" fill="#999999" stroke="#000" stroke-width="0.7"/>
<text x="370.6" y="457.8" font-size="6.4" text-anchor="start" fill="#000" >miR-155-5p/LXIΔN</text>
<rect x="366.4" y="464.8" width="3.2" height="3.2" fill="#444444" stroke="#000" stroke-width="0.7"/>
<text x="370.6" y="469.1" font-size="6.4" text-anchor="start" fill="#000" >miR-155-5p/LJARID2IΔN</text>
<text x="0.5" y="501.2" font-size="17" text-anchor="start" font-weight="bold" fill="#000" >B</text>
<text x="23.8" y="500.4" font-size="13.2" text-anchor="start" font-weight="bold" fill="#000" >i</text>
<line x1="35.2" y1="504.3" x2="498.8" y2="504.3" stroke="#2a2a2a" stroke-width="0.75" />
<line x1="35.2" y1="513.5" x2="498.8" y2="513.5" stroke="#2a2a2a" stroke-width="0.75" />
<line x1="35.2" y1="522.5" x2="498.8" y2="522.5" stroke="#2a2a2a" stroke-width="0.75" />
<line x1="35.2" y1="664.3" x2="498.8" y2="664.3" stroke="#2a2a2a" stroke-width="0.75" />
<line x1="35.2" y1="673.3" x2="498.8" y2="673.3" stroke="#2a2a2a" stroke-width="0.75" />
<line x1="35.2" y1="682.5" x2="498.8" y2="682.5" stroke="#2a2a2a" stroke-width="0.75" />
<line x1="35.2" y1="504.3" x2="35.2" y2="682.5" stroke="#2a2a2a" stroke-width="0.75" />
<line x1="498.8" y1="504.3" x2="498.8" y2="682.5" stroke="#2a2a2a" stroke-width="0.75" />
<line x1="62.47" y1="513.5" x2="62.47" y2="664.3" stroke="#2a2a2a" stroke-width="0.75" />
<line x1="62.47" y1="673.3" x2="62.47" y2="682.5" stroke="#2a2a2a" stroke-width="0.75" />
<line x1="89.74" y1="513.5" x2="89.74" y2="664.3" stroke="#2a2a2a" stroke-width="0.75" />
<line x1="89.74" y1="673.3" x2="89.74" y2="682.5" stroke="#2a2a2a" stroke-width="0.75" />
<line x1="117.01" y1="513.5" x2="117.01" y2="664.3" stroke="#2a2a2a" stroke-width="0.75" />
<line x1="117.01" y1="673.3" x2="117.01" y2="682.5" stroke="#2a2a2a" stroke-width="0.75" />
<line x1="144.28" y1="513.5" x2="144.28" y2="664.3" stroke="#2a2a2a" stroke-width="0.75" />
<line x1="144.28" y1="673.3" x2="144.28" y2="682.5" stroke="#2a2a2a" stroke-width="0.75" />
<line x1="171.55" y1="513.5" x2="171.55" y2="664.3" stroke="#2a2a2a" stroke-width="0.75" />
<line x1="171.55" y1="673.3" x2="171.55" y2="682.5" stroke="#2a2a2a" stroke-width="0.75" />
<line x1="198.82" y1="513.5" x2="198.82" y2="664.3" stroke="#2a2a2a" stroke-width="0.75" />
<line x1="198.82" y1="673.3" x2="198.82" y2="682.5" stroke="#2a2a2a" stroke-width="0.75" />
<line x1="226.09" y1="513.5" x2="226.09" y2="664.3" stroke="#2a2a2a" stroke-width="0.75" />
<line x1="226.09" y1="673.3" x2="226.09" y2="682.5" stroke="#2a2a2a" stroke-width="0.75" />
<line x1="253.36" y1="513.5" x2="253.36" y2="664.3" stroke="#2a2a2a" stroke-width="0.75" />
<line x1="253.36" y1="673.3" x2="253.36" y2="682.5" stroke="#2a2a2a" stroke-width="0.75" />
<line x1="280.64" y1="513.5" x2="280.64" y2="664.3" stroke="#2a2a2a" stroke-width="0.75" />
<line x1="280.64" y1="673.3" x2="280.64" y2="682.5" stroke="#2a2a2a" stroke-width="0.75" />
<line x1="307.91" y1="513.5" x2="307.91" y2="664.3" stroke="#2a2a2a" stroke-width="0.75" />
<line x1="307.91" y1="673.3" x2="307.91" y2="682.5" stroke="#2a2a2a" stroke-width="0.75" />
<line x1="335.18" y1="513.5" x2="335.18" y2="664.3" stroke="#2a2a2a" stroke-width="0.75" />
<line x1="335.18" y1="673.3" x2="335.18" y2="682.5" stroke="#2a2a2a" stroke-width="0.75" />
<line x1="362.45" y1="513.5" x2="362.45" y2="664.3" stroke="#2a2a2a" stroke-width="0.75" />
<line x1="362.45" y1="673.3" x2="362.45" y2="682.5" stroke="#2a2a2a" stroke-width="0.75" />
<line x1="389.72" y1="513.5" x2="389.72" y2="664.3" stroke="#2a2a2a" stroke-width="0.75" />
<line x1="389.72" y1="673.3" x2="389.72" y2="682.5" stroke="#2a2a2a" stroke-width="0.75" />
<line x1="416.99" y1="513.5" x2="416.99" y2="664.3" stroke="#2a2a2a" stroke-width="0.75" />
<line x1="416.99" y1="673.3" x2="416.99" y2="682.5" stroke="#2a2a2a" stroke-width="0.75" />
<line x1="444.26" y1="513.5" x2="444.26" y2="664.3" stroke="#2a2a2a" stroke-width="0.75" />
<line x1="444.26" y1="673.3" x2="444.26" y2="682.5" stroke="#2a2a2a" stroke-width="0.75" />
<line x1="471.53" y1="513.5" x2="471.53" y2="664.3" stroke="#2a2a2a" stroke-width="0.75" />
<line x1="471.53" y1="673.3" x2="471.53" y2="682.5" stroke="#2a2a2a" stroke-width="0.75" />
<text x="266.8" y="511.6" font-size="7.36" text-anchor="middle" font-weight="bold" fill="#000" >DAYS POST-PURIFICATION OF CORD BLOOD CD34+ CELLS</text>
<text x="266.8" y="671.5" font-size="7.42" text-anchor="middle" font-weight="bold" fill="#000" >DAYS POST-NUCLEOFECTION</text>
<text x="48.84" y="520.9" font-size="7.4" text-anchor="middle" font-weight="bold" fill="#000" >0</text>
<text x="48.84" y="681.2" font-size="7.4" text-anchor="middle" font-weight="bold" fill="#000" >-</text>
<text x="76.11" y="520.9" font-size="7.4" text-anchor="middle" font-weight="bold" fill="#000" >1</text>
<text x="76.11" y="681.2" font-size="7.4" text-anchor="middle" font-weight="bold" fill="#000" >-</text>
<text x="103.38" y="520.9" font-size="7.4" text-anchor="middle" font-weight="bold" fill="#000" >2</text>
<text x="103.38" y="681.2" font-size="7.4" text-anchor="middle" font-weight="bold" fill="#000" >-</text>
<text x="130.65" y="520.9" font-size="7.4" text-anchor="middle" font-weight="bold" fill="#000" >3</text>
<text x="130.65" y="681.2" font-size="7.4" text-anchor="middle" font-weight="bold" fill="#000" >-</text>
<text x="157.92" y="520.9" font-size="7.4" text-anchor="middle" font-weight="bold" fill="#000" >4</text>
<text x="157.92" y="681.2" font-size="7.4" text-anchor="middle" font-weight="bold" fill="#000" >-</text>
<text x="185.19" y="520.9" font-size="7.4" text-anchor="middle" font-weight="bold" fill="#000" >5</text>
<text x="185.19" y="681" font-size="7.4" text-anchor="middle" font-weight="bold" fill="#000" >1</text>
<text x="212.46" y="520.9" font-size="7.4" text-anchor="middle" font-weight="bold" fill="#000" >6</text>
<text x="212.46" y="681" font-size="7.4" text-anchor="middle" font-weight="bold" fill="#000" >2</text>
<text x="239.73" y="520.9" font-size="7.4" text-anchor="middle" font-weight="bold" fill="#000" >7</text>
<text x="239.73" y="681" font-size="7.4" text-anchor="middle" font-weight="bold" fill="#000" >3</text>
<text x="267" y="520.9" font-size="7.4" text-anchor="middle" font-weight="bold" fill="#000" >8</text>
<text x="267" y="681" font-size="7.4" text-anchor="middle" font-weight="bold" fill="#000" >4</text>
<text x="294.27" y="520.9" font-size="7.4" text-anchor="middle" font-weight="bold" fill="#000" >9</text>
<text x="294.27" y="681" font-size="7.4" text-anchor="middle" font-weight="bold" fill="#000" >5</text>
<text x="321.54" y="520.9" font-size="7.4" text-anchor="middle" font-weight="bold" fill="#000" >10</text>
<text x="321.54" y="681" font-size="7.4" text-anchor="middle" font-weight="bold" fill="#000" >6</text>
<text x="348.81" y="520.9" font-size="7.4" text-anchor="middle" font-weight="bold" fill="#000" >11</text>
<text x="348.81" y="681" font-size="7.4" text-anchor="middle" font-weight="bold" fill="#000" >7</text>
<text x="376.08" y="520.9" font-size="7.4" text-anchor="middle" font-weight="bold" fill="#000" >12</text>
<text x="376.08" y="681" font-size="7.4" text-anchor="middle" font-weight="bold" fill="#000" >8</text>
<text x="403.35" y="520.9" font-size="7.4" text-anchor="middle" font-weight="bold" fill="#000" >13</text>
<text x="403.35" y="681" font-size="7.4" text-anchor="middle" font-weight="bold" fill="#000" >9</text>
<text x="430.62" y="520.9" font-size="7.4" text-anchor="middle" font-weight="bold" fill="#000" >14</text>
<text x="430.62" y="681" font-size="7.4" text-anchor="middle" font-weight="bold" fill="#000" >10</text>
<text x="457.89" y="520.9" font-size="7.4" text-anchor="middle" font-weight="bold" fill="#000" >15</text>
<text x="457.89" y="681" font-size="7.4" text-anchor="middle" font-weight="bold" fill="#000" >11</text>
<text x="485.16" y="520.9" font-size="7.4" text-anchor="middle" font-weight="bold" fill="#000" >16</text>
<text x="485.16" y="681" font-size="7.4" text-anchor="middle" font-weight="bold" fill="#000" >12</text>
<text transform="translate(43.2,662.2) rotate(-90)" font-size="6.32" text-anchor="start" fill="#000" >CB CD34+ CELL PURIFICATION</text>
<text transform="translate(70.47,662.2) rotate(-90)" font-size="6.32" text-anchor="start" fill="#000" >1st miR-155-5p inhibitor&#160; NUCLEOFECTION</text>
<text transform="translate(97.74,662.2) rotate(-90)" font-size="6.32" text-anchor="start" fill="#000" >2nd miR-155-5p inhibitor / 1st JARID2-siRNA</text>
<text transform="translate(113.74,662.2) rotate(-90)" font-size="6.32" text-anchor="start" fill="#000" >NUCLEOFECTION</text>
<text transform="translate(125.01,662.2) rotate(-90)" font-size="6.32" text-anchor="start" fill="#000" >3rd miR-155-5p inhibitor / 2nd JARID2-siRNA</text>
<text transform="translate(141.01,662.2) rotate(-90)" font-size="6.32" text-anchor="start" fill="#000" >NUCLEOFECTION</text>
<text transform="translate(152.28,662.2) rotate(-90)" font-size="6.32" text-anchor="start" fill="#000" >4th miR-155-5p inhibitor / 3rd JARID2-siRNA</text>
<text transform="translate(168.28,662.2) rotate(-90)" font-size="6.32" text-anchor="start" fill="#000" >NUCLEOFECTION</text>
<text transform="translate(179.55,662.2) rotate(-90)" font-size="6.32" text-anchor="start" fill="#000" textLength="131.0" lengthAdjust="spacing">MK UNILINEAGE LIQUID CULTURE SET UP</text>
<text transform="translate(195.55,662.2) rotate(-90)" font-size="6.32" text-anchor="start" fill="#000" >AND CFU-MK ASSAY</text>
<text transform="translate(206.82,662.2) rotate(-90)" font-size="6.32" text-anchor="start" fill="#000" >REAL TIME DETECTION OF JARID2</text>
<text transform="translate(222.82,662.2) rotate(-90)" font-size="6.32" text-anchor="start" fill="#000" >EXPRESSION LEVEL</text>
<text transform="translate(370.45,662.2) rotate(-90)" font-size="6.32" text-anchor="start" fill="#000" >DETECTION OF CD41 BY FLOW CYTOMETRY</text>
<text transform="translate(424.99,662.2) rotate(-90)" font-size="6.32" text-anchor="start" fill="#000" >DETECTION OF CD41 BY FLOW CYTOMETRY</text>
<text transform="translate(479.53,662.2) rotate(-90)" font-size="6.32" text-anchor="start" fill="#000" >DETECTION OF CD41 BY FLOW CYTOMETRY</text>
<text transform="translate(495.53,662.2) rotate(-90)" font-size="6.32" text-anchor="start" fill="#000" >AND SCORING OF CFU-MK</text>
<text x="10.5" y="707.5" font-size="13.2" text-anchor="start" font-weight="bold" fill="#000" >ii</text>
<line x1="36.9" y1="843.7" x2="126" y2="843.7" stroke="#8a8a8a" stroke-width="0.9" />
<line x1="36.9" y1="825.9" x2="126" y2="825.9" stroke="#8a8a8a" stroke-width="0.9" />
<line x1="36.9" y1="808.1" x2="126" y2="808.1" stroke="#8a8a8a" stroke-width="0.9" />
<line x1="36.9" y1="790.3" x2="126" y2="790.3" stroke="#8a8a8a" stroke-width="0.9" />
<line x1="36.9" y1="772.5" x2="126" y2="772.5" stroke="#8a8a8a" stroke-width="0.9" />
<line x1="36.9" y1="754.7" x2="126" y2="754.7" stroke="#8a8a8a" stroke-width="0.9" />
<line x1="36.9" y1="736.9" x2="126" y2="736.9" stroke="#8a8a8a" stroke-width="0.9" />
<line x1="36.9" y1="719.1" x2="126" y2="719.1" stroke="#8a8a8a" stroke-width="0.9" />
<line x1="36.9" y1="701.3" x2="126" y2="701.3" stroke="#8a8a8a" stroke-width="0.9" />
<line x1="39.1" y1="701.3" x2="39.1" y2="843.7" stroke="#8a8a8a" stroke-width="0.9" />
<text x="34.9" y="846" font-size="6.4" text-anchor="end" fill="#000" >0</text>
<text x="34.9" y="828.2" font-size="6.4" text-anchor="end" fill="#000" >0,2</text>
<text x="34.9" y="810.4" font-size="6.4" text-anchor="end" fill="#000" >0,4</text>
<text x="34.9" y="792.6" font-size="6.4" text-anchor="end" fill="#000" >0,6</text>
<text x="34.9" y="774.8" font-size="6.4" text-anchor="end" fill="#000" >0,8</text>
<text x="34.9" y="757" font-size="6.4" text-anchor="end" fill="#000" >1</text>
<text x="34.9" y="739.2" font-size="6.4" text-anchor="end" fill="#000" >1,2</text>
<text x="34.9" y="721.4" font-size="6.4" text-anchor="end" fill="#000" >1,4</text>
<text x="34.9" y="703.6" font-size="6.4" text-anchor="end" fill="#000" >1,6</text>
<text transform="translate(22.3,780) rotate(-90)" font-size="6.4" text-anchor="middle" fill="#000" >Relative Quantity</text>
<rect x="51.3" y="754.7" width="15.7" height="89" fill="#ffffff" stroke="#000" stroke-width="0.7"/>
<rect x="67" y="818.6" width="15.7" height="25.1" fill="#000000" stroke="#000" stroke-width="0.7"/>
<line x1="74.85" y1="818.6" x2="74.85" y2="815.5" stroke="#111" stroke-width="0.85" />
<line x1="72.85" y1="815.5" x2="76.85" y2="815.5" stroke="#111" stroke-width="0.85" />
<rect x="82.7" y="725.78" width="15.7" height="117.92" fill="#999999" stroke="#000" stroke-width="0.7"/>
<line x1="90.55" y1="725.78" x2="90.55" y2="721.3" stroke="#111" stroke-width="0.85" />
<line x1="88.55" y1="721.3" x2="92.55" y2="721.3" stroke="#111" stroke-width="0.85" />
<rect x="98.4" y="792.08" width="15.7" height="51.62" fill="#444444" stroke="#000" stroke-width="0.7"/>
<line x1="106.25" y1="792.08" x2="106.25" y2="788" stroke="#111" stroke-width="0.85" />
<line x1="104.25" y1="788" x2="108.25" y2="788" stroke="#111" stroke-width="0.85" />
<path d="M56.3 750.5V706.3H86.8V720" fill="none" stroke="#000" stroke-width="0.6"/>
<text x="71.5" y="708.55" font-size="7.4" text-anchor="middle" fill="#000" font-family='DejaVu Sans' letter-spacing="-1.3" stroke="#000" stroke-width="0.25">★</text>
<path d="M93.3 720V706.3H106.8V784.5" fill="none" stroke="#000" stroke-width="0.6"/>
<text x="99" y="708.55" font-size="7.4" text-anchor="middle" fill="#000" font-family='DejaVu Sans' letter-spacing="-1.3" stroke="#000" stroke-width="0.25">★★</text>
<path d="M61.3 750.5V741.3H74.4V812.5" fill="none" stroke="#000" stroke-width="0.6"/>
<text x="66.8" y="743.55" font-size="7.4" text-anchor="middle" fill="#000" font-family='DejaVu Sans' letter-spacing="-1.3" stroke="#000" stroke-width="0.25">★★</text>
<rect x="41.3" y="882.2" width="3.2" height="3.2" fill="#ffffff" stroke="#000" stroke-width="0.7"/>
<text x="45.5" y="886.5" font-size="6.4" text-anchor="start" fill="#000" >NegCTR/NegINH</text>
<rect x="41.3" y="894.4" width="3.2" height="3.2" fill="#000000" stroke="#000" stroke-width="0.7"/>
<text x="45.5" y="898.7" font-size="6.4" text-anchor="start" fill="#000" >JARID2-siRNA</text>
<rect x="41.3" y="906.4" width="3.2" height="3.2" fill="#999999" stroke="#000" stroke-width="0.7"/>
<text x="45.5" y="910.7" font-size="6.4" text-anchor="start" fill="#000" >miR-155-5p inhibitor</text>
<rect x="41.3" y="918.1" width="3.2" height="3.2" fill="#444444" stroke="#000" stroke-width="0.7"/>
<clipPath id="cb"><rect x="0" y="911.7" width="136" height="16"/></clipPath>
<text x="45.5" y="922.4" font-size="6.4" text-anchor="start" fill="#000" clip-path="url(#cb)">miR-155-5p inhibitor/JARID2-siRNA</text>
<text x="138.5" y="707.5" font-size="13.2" text-anchor="start" font-weight="bold" fill="#000" >iii</text>
<line x1="166.6" y1="844" x2="320.5" y2="844" stroke="#8a8a8a" stroke-width="0.9" />
<line x1="166.6" y1="828.04" x2="320.5" y2="828.04" stroke="#8a8a8a" stroke-width="0.9" />
<line x1="166.6" y1="812.08" x2="320.5" y2="812.08" stroke="#8a8a8a" stroke-width="0.9" />
<line x1="166.6" y1="796.12" x2="320.5" y2="796.12" stroke="#8a8a8a" stroke-width="0.9" />
<line x1="166.6" y1="780.16" x2="320.5" y2="780.16" stroke="#8a8a8a" stroke-width="0.9" />
<line x1="166.6" y1="764.2" x2="320.5" y2="764.2" stroke="#8a8a8a" stroke-width="0.9" />
<line x1="166.6" y1="748.24" x2="320.5" y2="748.24" stroke="#8a8a8a" stroke-width="0.9" />
<line x1="166.6" y1="732.28" x2="320.5" y2="732.28" stroke="#8a8a8a" stroke-width="0.9" />
<line x1="166.6" y1="716.32" x2="320.5" y2="716.32" stroke="#8a8a8a" stroke-width="0.9" />
<line x1="166.6" y1="700.36" x2="320.5" y2="700.36" stroke="#8a8a8a" stroke-width="0.9" />
<line x1="168.8" y1="700.36" x2="168.8" y2="844" stroke="#8a8a8a" stroke-width="0.9" />
<text x="164.6" y="846.3" font-size="6.4" text-anchor="end" fill="#000" >0</text>
<text x="164.6" y="830.34" font-size="6.4" text-anchor="end" fill="#000" >10</text>
<text x="164.6" y="814.38" font-size="6.4" text-anchor="end" fill="#000" >20</text>
<text x="164.6" y="798.42" font-size="6.4" text-anchor="end" fill="#000" >30</text>
<text x="164.6" y="782.46" font-size="6.4" text-anchor="end" fill="#000" >40</text>
<text x="164.6" y="766.5" font-size="6.4" text-anchor="end" fill="#000" >50</text>
<text x="164.6" y="750.54" font-size="6.4" text-anchor="end" fill="#000" >60</text>
<text x="164.6" y="734.58" font-size="6.4" text-anchor="end" fill="#000" >70</text>
<text x="164.6" y="718.62" font-size="6.4" text-anchor="end" fill="#000" >80</text>
<text x="164.6" y="702.66" font-size="6.4" text-anchor="end" fill="#000" >90</text>
<text transform="translate(150.7,771.5) rotate(-90)" font-size="6.8" text-anchor="middle" fill="#000" >% of CD41 positive cells</text>
<rect x="176.3" y="807.29" width="9.25" height="36.71" fill="#ffffff" stroke="#000" stroke-width="0.7"/>
<line x1="180.93" y1="807.29" x2="180.93" y2="803" stroke="#111" stroke-width="0.85" />
<line x1="178.93" y1="803" x2="182.93" y2="803" stroke="#111" stroke-width="0.85" />
<rect x="185.55" y="789.74" width="9.25" height="54.26" fill="#000000" stroke="#000" stroke-width="0.7"/>
<line x1="190.18" y1="789.74" x2="190.18" y2="783.3" stroke="#111" stroke-width="0.85" />
<line x1="188.18" y1="783.3" x2="192.18" y2="783.3" stroke="#111" stroke-width="0.85" />
<rect x="194.8" y="819.26" width="9.25" height="24.74" fill="#999999" stroke="#000" stroke-width="0.7"/>
<line x1="199.43" y1="819.26" x2="199.43" y2="817" stroke="#111" stroke-width="0.85" />
<line x1="197.43" y1="817" x2="201.43" y2="817" stroke="#111" stroke-width="0.85" />
<rect x="204.05" y="803.46" width="9.25" height="40.54" fill="#444444" stroke="#000" stroke-width="0.7"/>
<line x1="208.68" y1="803.46" x2="208.68" y2="798.8" stroke="#111" stroke-width="0.85" />
<line x1="206.68" y1="798.8" x2="210.68" y2="798.8" stroke="#111" stroke-width="0.85" />
<rect x="226.3" y="772.18" width="9.25" height="71.82" fill="#ffffff" stroke="#000" stroke-width="0.7"/>
<line x1="230.93" y1="772.18" x2="230.93" y2="767.6" stroke="#111" stroke-width="0.85" />
<line x1="228.93" y1="767.6" x2="232.93" y2="767.6" stroke="#111" stroke-width="0.85" />
<rect x="235.55" y="741.06" width="9.25" height="102.94" fill="#000000" stroke="#000" stroke-width="0.7"/>
<line x1="240.18" y1="741.06" x2="240.18" y2="736" stroke="#111" stroke-width="0.85" />
<line x1="238.18" y1="736" x2="242.18" y2="736" stroke="#111" stroke-width="0.85" />
<rect x="244.8" y="788.14" width="9.25" height="55.86" fill="#999999" stroke="#000" stroke-width="0.7"/>
<line x1="249.43" y1="788.14" x2="249.43" y2="786" stroke="#111" stroke-width="0.85" />
<line x1="247.43" y1="786" x2="251.43" y2="786" stroke="#111" stroke-width="0.85" />
<rect x="254.05" y="768.19" width="9.25" height="75.81" fill="#444444" stroke="#000" stroke-width="0.7"/>
<line x1="258.68" y1="768.19" x2="258.68" y2="763" stroke="#111" stroke-width="0.85" />
<line x1="256.68" y1="763" x2="260.68" y2="763" stroke="#111" stroke-width="0.85" />
<rect x="276.3" y="760.37" width="9.25" height="83.63" fill="#ffffff" stroke="#000" stroke-width="0.7"/>
<line x1="280.93" y1="760.37" x2="280.93" y2="755.8" stroke="#111" stroke-width="0.85" />
<line x1="278.93" y1="755.8" x2="282.93" y2="755.8" stroke="#111" stroke-width="0.85" />
<rect x="285.55" y="712.49" width="9.25" height="131.51" fill="#000000" stroke="#000" stroke-width="0.7"/>
<line x1="290.18" y1="712.49" x2="290.18" y2="709.5" stroke="#111" stroke-width="0.85" />
<line x1="288.18" y1="709.5" x2="292.18" y2="709.5" stroke="#111" stroke-width="0.85" />
<rect x="294.8" y="777.45" width="9.25" height="66.55" fill="#999999" stroke="#000" stroke-width="0.7"/>
<line x1="299.43" y1="777.45" x2="299.43" y2="773" stroke="#111" stroke-width="0.85" />
<line x1="297.43" y1="773" x2="301.43" y2="773" stroke="#111" stroke-width="0.85" />
<rect x="304.05" y="755.42" width="9.25" height="88.58" fill="#444444" stroke="#000" stroke-width="0.7"/>
<line x1="308.68" y1="755.42" x2="308.68" y2="751.3" stroke="#111" stroke-width="0.85" />
<line x1="306.68" y1="751.3" x2="310.68" y2="751.3" stroke="#111" stroke-width="0.85" />
<line x1="219.4" y1="844" x2="219.4" y2="846.2" stroke="#8a8a8a" stroke-width="0.9" />
<line x1="270" y1="844" x2="270" y2="846.2" stroke="#8a8a8a" stroke-width="0.9" />
<text transform="translate(199.1,852.4) rotate(-54)" font-size="6.3" text-anchor="end" fill="#000" >Day 8</text>
<text transform="translate(249.1,852.4) rotate(-54)" font-size="6.3" text-anchor="end" fill="#000" >Day 10</text>
<text transform="translate(299.1,852.4) rotate(-54)" font-size="6.3" text-anchor="end" fill="#000" >Day 12</text>
<path d="M178.3 800.5V760H198.8V815.5" fill="none" stroke="#000" stroke-width="0.6"/>
<text x="187.5" y="762.25" font-size="7.4" text-anchor="middle" fill="#000" font-family='DejaVu Sans' letter-spacing="-1.3" stroke="#000" stroke-width="0.25">★</text>
<path d="M181.8 800.5V776.3H190V782.3" fill="none" stroke="#000" stroke-width="0.6"/>
<text x="185" y="778.55" font-size="7.4" text-anchor="middle" fill="#000" font-family='DejaVu Sans' letter-spacing="-1.3" stroke="#000" stroke-width="0.25">★</text>
<path d="M200.8 815.5V776.3H208.8V796" fill="none" stroke="#000" stroke-width="0.6"/>
<text x="203.8" y="778.55" font-size="7.4" text-anchor="middle" fill="#000" font-family='DejaVu Sans' letter-spacing="-1.3" stroke="#000" stroke-width="0.25">★</text>
<path d="M228.3 765V712.5H247V784.5" fill="none" stroke="#000" stroke-width="0.6"/>
<text x="236.5" y="714.75" font-size="7.4" text-anchor="middle" fill="#000" font-family='DejaVu Sans' letter-spacing="-1.3" stroke="#000" stroke-width="0.25">★</text>
<path d="M231.8 765V730H240V735.5" fill="none" stroke="#000" stroke-width="0.6"/>
<text x="235" y="732.25" font-size="7.4" text-anchor="middle" fill="#000" font-family='DejaVu Sans' letter-spacing="-1.3" stroke="#000" stroke-width="0.25">★★</text>
<path d="M250.6 784.5V745H257.5V761.5" fill="none" stroke="#000" stroke-width="0.6"/>
<text x="253" y="747.25" font-size="7.4" text-anchor="middle" fill="#000" font-family='DejaVu Sans' letter-spacing="-1.3" stroke="#000" stroke-width="0.25">★</text>
<path d="M278 753V700.8H297.5V771.5" fill="none" stroke="#000" stroke-width="0.6"/>
<text x="287.2" y="703.05" font-size="7.4" text-anchor="middle" fill="#000" font-family='DejaVu Sans' letter-spacing="-1.3" stroke="#000" stroke-width="0.25">★★</text>
<path d="M281.3 753V706.5H290.3V709" fill="none" stroke="#000" stroke-width="0.6"/>
<text x="284.5" y="708.75" font-size="7.4" text-anchor="middle" fill="#000" font-family='DejaVu Sans' letter-spacing="-1.3" stroke="#000" stroke-width="0.25">★★</text>
<path d="M300 771.5V739.5H309.5V750" fill="none" stroke="#000" stroke-width="0.6"/>
<text x="303.8" y="741.75" font-size="7.4" text-anchor="middle" fill="#000" font-family='DejaVu Sans' letter-spacing="-1.3" stroke="#000" stroke-width="0.25">★★</text>
<rect x="171.6" y="882.2" width="3.2" height="3.2" fill="#ffffff" stroke="#000" stroke-width="0.7"/>
<text x="175.8" y="886.5" font-size="6.33" text-anchor="start" fill="#000" >NegCTR/NegINH</text>
<rect x="171.6" y="893.8" width="3.2" height="3.2" fill="#000000" stroke="#000" stroke-width="0.7"/>
<text x="175.8" y="898.1" font-size="6.33" text-anchor="start" fill="#000" >JARID2-siRNA</text>
<rect x="171.6" y="905.4" width="3.2" height="3.2" fill="#999999" stroke="#000" stroke-width="0.7"/>
<text x="175.8" y="909.7" font-size="6.33" text-anchor="start" fill="#000" >miR-155-5p inhibitor</text>
<rect x="171.6" y="917.2" width="3.2" height="3.2" fill="#444444" stroke="#000" stroke-width="0.7"/>
<text x="175.8" y="921.5" font-size="6.33" text-anchor="start" fill="#000" >miR-155-5p inhibitor/JARID2-siRNA</text>
<text x="337.5" y="707.5" font-size="13.2" text-anchor="start" font-weight="bold" fill="#000" >iv</text>
<line x1="362.8" y1="844.2" x2="511" y2="844.2" stroke="#8a8a8a" stroke-width="0.9" />
<line x1="362.8" y1="823.6" x2="511" y2="823.6" stroke="#8a8a8a" stroke-width="0.9" />
<line x1="362.8" y1="803" x2="511" y2="803" stroke="#8a8a8a" stroke-width="0.9" />
<line x1="362.8" y1="782.4" x2="511" y2="782.4" stroke="#8a8a8a" stroke-width="0.9" />
<line x1="362.8" y1="761.8" x2="511" y2="761.8" stroke="#8a8a8a" stroke-width="0.9" />
<line x1="362.8" y1="741.2" x2="511" y2="741.2" stroke="#8a8a8a" stroke-width="0.9" />
<line x1="362.8" y1="720.6" x2="511" y2="720.6" stroke="#8a8a8a" stroke-width="0.9" />
<line x1="362.8" y1="700" x2="511" y2="700" stroke="#8a8a8a" stroke-width="0.9" />
<line x1="365" y1="700" x2="365" y2="844.2" stroke="#8a8a8a" stroke-width="0.9" />
<text x="360.8" y="846.5" font-size="6.4" text-anchor="end" fill="#000" >0</text>
<text x="360.8" y="825.9" font-size="6.4" text-anchor="end" fill="#000" >10</text>
<text x="360.8" y="805.3" font-size="6.4" text-anchor="end" fill="#000" >20</text>
<text x="360.8" y="784.7" font-size="6.4" text-anchor="end" fill="#000" >30</text>
<text x="360.8" y="764.1" font-size="6.4" text-anchor="end" fill="#000" >40</text>
<text x="360.8" y="743.5" font-size="6.4" text-anchor="end" fill="#000" >50</text>
<text x="360.8" y="722.9" font-size="6.4" text-anchor="end" fill="#000" >60</text>
<text x="360.8" y="702.3" font-size="6.4" text-anchor="end" fill="#000" >70</text>
<text transform="translate(348.6,772) rotate(-90)" font-size="6.6" text-anchor="middle" fill="#000" >% of colonies</text>
<rect x="372.5" y="766.74" width="8.8" height="77.46" fill="#ffffff" stroke="#000" stroke-width="0.7"/>
<line x1="376.9" y1="766.74" x2="376.9" y2="757.5" stroke="#111" stroke-width="0.85" />
<line x1="374.9" y1="757.5" x2="378.9" y2="757.5" stroke="#111" stroke-width="0.85" />
<rect x="381.3" y="740.58" width="8.8" height="103.62" fill="#000000" stroke="#000" stroke-width="0.7"/>
<line x1="385.7" y1="740.58" x2="385.7" y2="731.3" stroke="#111" stroke-width="0.85" />
<line x1="383.7" y1="731.3" x2="387.7" y2="731.3" stroke="#111" stroke-width="0.85" />
<rect x="390.1" y="785.49" width="8.8" height="58.71" fill="#999999" stroke="#000" stroke-width="0.7"/>
<line x1="394.5" y1="785.49" x2="394.5" y2="777.5" stroke="#111" stroke-width="0.85" />
<line x1="392.5" y1="777.5" x2="396.5" y2="777.5" stroke="#111" stroke-width="0.85" />
<rect x="398.9" y="768.19" width="8.8" height="76.01" fill="#444444" stroke="#000" stroke-width="0.7"/>
<line x1="403.3" y1="768.19" x2="403.3" y2="756.3" stroke="#111" stroke-width="0.85" />
<line x1="401.3" y1="756.3" x2="405.3" y2="756.3" stroke="#111" stroke-width="0.85" />
<rect x="420.8" y="811.65" width="8.8" height="32.55" fill="#ffffff" stroke="#000" stroke-width="0.7"/>
<line x1="425.2" y1="811.65" x2="425.2" y2="806.3" stroke="#111" stroke-width="0.85" />
<line x1="423.2" y1="806.3" x2="427.2" y2="806.3" stroke="#111" stroke-width="0.85" />
<rect x="429.6" y="805.47" width="8.8" height="38.73" fill="#000000" stroke="#000" stroke-width="0.7"/>
<line x1="434" y1="805.47" x2="434" y2="802.5" stroke="#111" stroke-width="0.85" />
<line x1="432" y1="802.5" x2="436" y2="802.5" stroke="#111" stroke-width="0.85" />
<rect x="438.4" y="823.19" width="8.8" height="21.01" fill="#999999" stroke="#000" stroke-width="0.7"/>
<line x1="442.8" y1="823.19" x2="442.8" y2="818.8" stroke="#111" stroke-width="0.85" />
<line x1="440.8" y1="818.8" x2="444.8" y2="818.8" stroke="#111" stroke-width="0.85" />
<rect x="447.2" y="804.44" width="8.8" height="39.76" fill="#444444" stroke="#000" stroke-width="0.7"/>
<line x1="451.6" y1="804.44" x2="451.6" y2="799.5" stroke="#111" stroke-width="0.85" />
<line x1="449.6" y1="799.5" x2="453.6" y2="799.5" stroke="#111" stroke-width="0.85" />
<rect x="468.9" y="747.79" width="8.8" height="96.41" fill="#ffffff" stroke="#000" stroke-width="0.7"/>
<line x1="473.3" y1="747.79" x2="473.3" y2="738.5" stroke="#111" stroke-width="0.85" />
<line x1="471.3" y1="738.5" x2="475.3" y2="738.5" stroke="#111" stroke-width="0.85" />
<rect x="477.7" y="780.75" width="8.8" height="63.45" fill="#000000" stroke="#000" stroke-width="0.7"/>
<line x1="482.1" y1="780.75" x2="482.1" y2="770" stroke="#111" stroke-width="0.85" />
<line x1="480.1" y1="770" x2="484.1" y2="770" stroke="#111" stroke-width="0.85" />
<rect x="486.5" y="719.98" width="8.8" height="124.22" fill="#999999" stroke="#000" stroke-width="0.7"/>
<line x1="490.9" y1="719.98" x2="490.9" y2="707.4" stroke="#111" stroke-width="0.85" />
<line x1="488.9" y1="707.4" x2="492.9" y2="707.4" stroke="#111" stroke-width="0.85" />
<rect x="495.3" y="752.94" width="8.8" height="91.26" fill="#444444" stroke="#000" stroke-width="0.7"/>
<line x1="499.7" y1="752.94" x2="499.7" y2="738" stroke="#111" stroke-width="0.85" />
<line x1="497.7" y1="738" x2="501.7" y2="738" stroke="#111" stroke-width="0.85" />
<line x1="413.7" y1="844.2" x2="413.7" y2="846.4" stroke="#8a8a8a" stroke-width="0.9" />
<line x1="462.3" y1="844.2" x2="462.3" y2="846.4" stroke="#8a8a8a" stroke-width="0.9" />
<text transform="translate(393.8,852.9) rotate(-54)" font-size="6.3" text-anchor="end" fill="#000" >CFU-MK</text>
<text transform="translate(440.8,852.9) rotate(-54)" font-size="6.3" text-anchor="end" fill="#000" >CFU MIX</text>
<text transform="translate(489.8,852.9) rotate(-54)" font-size="6.3" text-anchor="end" fill="#000" >CFU-nonMK</text>
<path d="M373.3 754.5V717.5H392.5V776" fill="none" stroke="#000" stroke-width="0.6"/>
<text x="382.2" y="720.35" font-size="7.4" text-anchor="middle" fill="#000" font-family='DejaVu Sans' letter-spacing="-1.3" stroke="#000" stroke-width="0.25">★★</text>
<path d="M377.4 754.5V728.8H386V730.5" fill="none" stroke="#000" stroke-width="0.6"/>
<text x="380" y="730.45" font-size="7.4" text-anchor="middle" fill="#000" font-family='DejaVu Sans' letter-spacing="-1.3" stroke="#000" stroke-width="0.25">★★</text>
<path d="M395.8 776V751.3H403.8V755" fill="none" stroke="#000" stroke-width="0.6"/>
<text x="398.8" y="753.55" font-size="7.4" text-anchor="middle" fill="#000" font-family='DejaVu Sans' letter-spacing="-1.3" stroke="#000" stroke-width="0.25">★</text>
<path d="M470.4 736V703H488.9V706.5" fill="none" stroke="#000" stroke-width="0.6"/>
<text x="480" y="706.45" font-size="7.4" text-anchor="middle" fill="#000" font-family='DejaVu Sans' letter-spacing="-1.3" stroke="#000" stroke-width="0.25">★★</text>
<path d="M491.9 706.5V703H498.8V736.5" fill="none" stroke="#000" stroke-width="0.6"/>
<text x="495.2" y="706.25" font-size="7.4" text-anchor="middle" fill="#000" font-family='DejaVu Sans' letter-spacing="-1.3" stroke="#000" stroke-width="0.25">★</text>
<path d="M473.4 736V726.5H481.2V769" fill="none" stroke="#000" stroke-width="0.6"/>
<text x="478.1" y="728.05" font-size="7.4" text-anchor="middle" fill="#000" font-family='DejaVu Sans' letter-spacing="-1.3" stroke="#000" stroke-width="0.25">★★</text>
<rect x="366.4" y="881.4" width="3.2" height="3.2" fill="#ffffff" stroke="#000" stroke-width="0.7"/>
<text x="370.6" y="885.7" font-size="6.22" text-anchor="start" fill="#000" >NegCTR/NegINH</text>
<rect x="366.4" y="892.7" width="3.2" height="3.2" fill="#000000" stroke="#000" stroke-width="0.7"/>
<text x="370.6" y="897" font-size="6.22" text-anchor="start" fill="#000" >JARID2-siRNA</text>
<rect x="366.4" y="903.9" width="3.2" height="3.2" fill="#999999" stroke="#000" stroke-width="0.7"/>
<text x="370.6" y="908.2" font-size="6.22" text-anchor="start" fill="#000" >miR-155-5p inhibitor</text>
<rect x="366.4" y="915.2" width="3.2" height="3.2" fill="#444444" stroke="#000" stroke-width="0.7"/>
<text x="370.6" y="919.5" font-size="6.22" text-anchor="start" fill="#000" >miR-155-5p inhibitor/JARID2-siRNA</text>
</g>
</svg>
</body></html>
